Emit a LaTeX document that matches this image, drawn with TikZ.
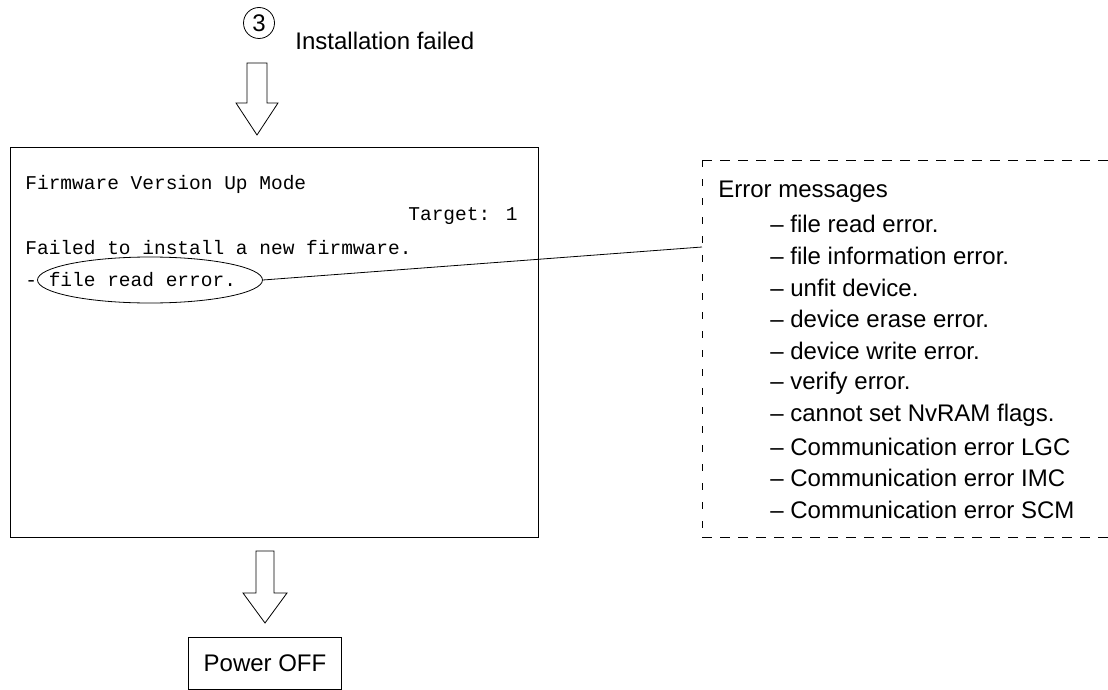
\documentclass[tikz,border=0pt]{standalone}
\usepackage{fontspec}
\setmainfont{Liberation Sans}
\newfontfamily\monof{Liberation Mono}
\usetikzlibrary{shapes.geometric}
\begin{document}
\begin{tikzpicture}[x=1pt,y=-1pt,line width=0.8pt,
  sans/.style={font=\fontsize{24}{28}\selectfont,inner sep=0pt},
  mono/.style={font=\monof\fontsize{19.5}{22}\selectfont,inner sep=0pt},
  blockarrow/.style={draw,line width=0.8pt,fill=white},
  hdash/.style={dash pattern=on 10pt off 8pt},
  vdash/.style={dash pattern=on 7pt off 12pt}]
\useasboundingbox (0,0) rectangle (1108,690);
% step 3 label
\node[draw,circle,inner sep=0pt,minimum size=31pt,sans] (three) at (259,23) {3};
\node[sans,anchor=base west] (instfail) at (295,50) {Installation failed};
% top block arrow
\draw[blockarrow] (247,63) -- (267,63) -- (267,103) -- (278,103) -- (257,135) -- (236,103) -- (247,103) -- cycle;
% main screen
\node[draw,minimum width=528pt,minimum height=390pt,anchor=north west,inner sep=0pt] (main) at (10,147) {};
\node[mono,anchor=west] (l1) at (25,184) {Firmware Version Up Mode};
\node[mono,anchor=east] (l2) at (518,216) {Target: 1};
\node[mono,anchor=west] (l3) at (25,248) {Failed to install a new firmware.};
\node[mono,anchor=west] (l4) at (25,280) {- file read error.};
\node[draw,ellipse,minimum width=225pt,minimum height=46pt,inner sep=0pt] (ell) at (150,280) {};
% bottom block arrow
\draw[blockarrow] (256,551) -- (274,551) -- (274,593) -- (287,593) -- (265,623) -- (243,593) -- (256,593) -- cycle;
\node[draw,sans,minimum width=153pt,minimum height=52pt,inner sep=0pt] (poweroff) at (265,663) {Power OFF};
% error message box
\coordinate (ebtr) at (1110,160);
\coordinate (ebtl) at (702,160);
\coordinate (ebbl) at (702,537);
\coordinate (ebbr) at (1110,537);
\draw[hdash] (ebtl) -- (ebtr);
\draw[hdash] (ebbl) -- (ebbr);
\draw[vdash] (ebtl) -- (ebbl);
\node[sans,anchor=west] (errhead) at (718,192) {Error messages};
\foreach \t [count=\i from 0] in {file read error.,file information error.,unfit device.,device erase error.,device write error.,verify error.,cannot set NvRAM flags.,Communication error LGC,Communication error IMC,Communication error SCM}
  \node[sans,anchor=west] (err\i) at (770,224+31.8*\i) {\textendash\ \t};
\coordinate (conn) at (702,247);
\draw (ell.east) -- (conn);
\end{tikzpicture}
\end{document}
